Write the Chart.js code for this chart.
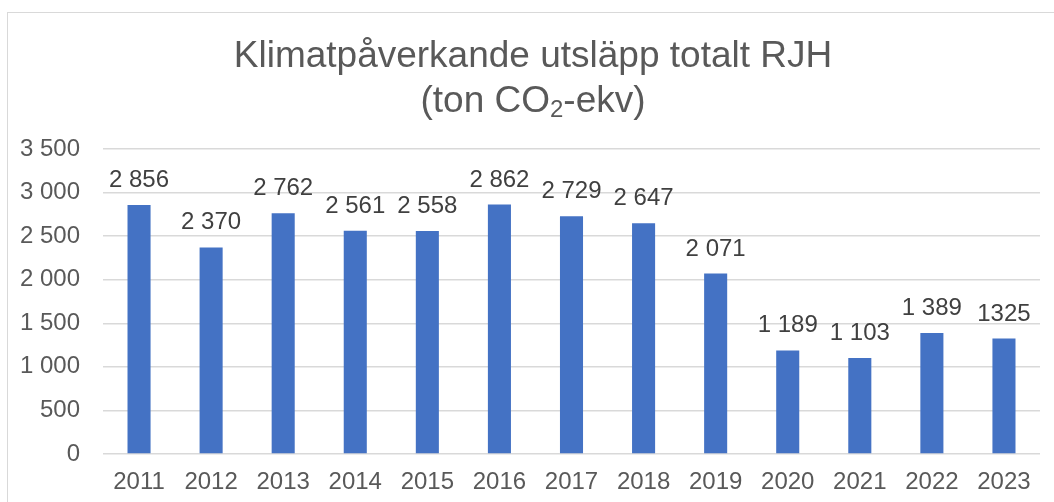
<!DOCTYPE html>
<html>
<head>
<meta charset="utf-8">
<script src="https://cdn.jsdelivr.net/npm/chart.js@4"></script>
<style>
  html, body { margin: 0; padding: 0; background: #fff; overflow: hidden; }
  #wrap { position: relative; width: 1054px; height: 502px; }
  #frame { position: absolute; left: 7px; top: 12px; width: 1100px; height: 600px; border: 1.5px solid #d9d9d9; box-sizing: border-box; }
  canvas { position: absolute; left: 0; top: 0; }
</style>
</head>
<body>
<div id="wrap">
  <div id="frame"></div>
  <canvas id="chart" width="1054" height="502"></canvas>
</div>
<script>
const years = ['2011', '2012', '2013', '2014', '2015', '2016', '2017', '2018', '2019', '2020', '2021', '2022', '2023'];
const emissions = [2856, 2370, 2762, 2561, 2558, 2862, 2729, 2647, 2071, 1189, 1103, 1389, 1325];
const valueLabels = ['2 856', '2 370', '2 762', '2 561', '2 558', '2 862', '2 729', '2 647', '2 071', '1 189', '1 103', '1 389', '1325'];
const titleLine1 = 'Klimatpåverkande utsläpp totalt RJH';
// rad 2: (ton CO2-ekv) med nedsänkt 2
const titleLine2 = ['(ton CO', '2', '-ekv)'];

const fontFam = '"Liberation Sans", Arial, sans-serif';

// titel, ritas själv för att få riktig nedsänkt tvåa
const titlePlugin = {
  id: 'titlePlugin',
  afterDraw(chart) {
    const c = chart.ctx;
    const cx = 533;
    c.save();
    c.fillStyle = '#595959';
    c.textBaseline = 'alphabetic';
    c.textAlign = 'center';
    c.font = '37px ' + fontFam;
    c.fillText(titleLine1, cx, 67);

    c.textAlign = 'left';
    const big = '37px ' + fontFam, small = '24px ' + fontFam;
    c.font = big;
    const w1 = c.measureText(titleLine2[0]).width;
    const w3 = c.measureText(titleLine2[2]).width;
    c.font = small;
    const w2 = c.measureText(titleLine2[1]).width;
    let x = cx - (w1 + w2 + w3) / 2;
    c.font = big;
    c.fillText(titleLine2[0], x, 112);
    x += w1;
    c.font = small;
    c.fillText(titleLine2[1], x, 117);
    x += w2;
    c.font = big;
    c.fillText(titleLine2[2], x, 112);
    c.restore();
  }
};

// siffror ovanför staplarna
const barLabels = {
  id: 'barLabels',
  afterDatasetsDraw(chart) {
    const c = chart.ctx;
    const meta = chart.getDatasetMeta(0);
    c.save();
    c.font = '24px ' + fontFam;
    c.fillStyle = '#404040';
    c.textAlign = 'center';
    c.textBaseline = 'alphabetic';
    meta.data.forEach((bar, i) => {
      c.fillText(valueLabels[i], bar.x, bar.y - 18);
    });
    c.restore();
  }
};

new Chart(document.getElementById('chart'), {
  type: 'bar',
  data: {
    labels: years,
    datasets: [{
      data: emissions,
      backgroundColor: '#4472C4',
      barPercentage: 0.32,
      categoryPercentage: 1
    }]
  },
  options: {
    responsive: false,
    animation: false,
    layout: { padding: { left: 0, right: 14, top: 149, bottom: 0 } },
    plugins: {
      legend: { display: false },
      tooltip: { enabled: false },
      title: { display: false }
    },
    scales: {
      x: {
        grid: { display: false, drawTicks: false },
        border: { display: false },
        ticks: { color: '#595959', font: { family: fontFam, size: 24 }, padding: 14 },
        afterFit(s) { s.height = 48; }
      },
      y: {
        min: 0,
        max: 3500,
        border: { display: false },
        grid: { color: '#d9d9d9', lineWidth: 1.5, drawTicks: false },
        ticks: {
          stepSize: 500,
          color: '#595959',
          padding: 23,
          font: { family: fontFam, size: 24 },
          callback: v => String(v).replace(/\B(?=(\d{3})+(?!\d))/g, ' ')
        },
        afterFit(s) { s.width = 103; }
      }
    }
  },
  plugins: [barLabels, titlePlugin]
});
</script>
</body>
</html>
